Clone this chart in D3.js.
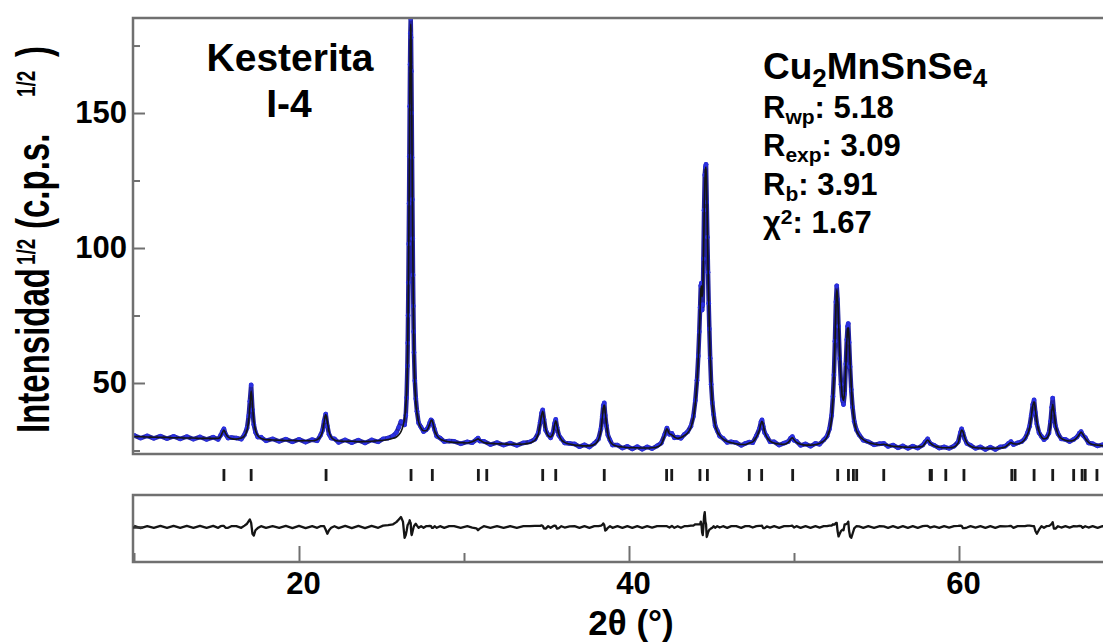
<!DOCTYPE html>
<html>
<head>
<meta charset="utf-8">
<script src="https://cdn.jsdelivr.net/npm/d3@7"></script>
<style>
  html, body { margin: 0; padding: 0; background: #fff; }
  svg { display: block; font-family: "Liberation Sans", Arial, Helvetica, sans-serif; font-weight: bold; }
</style>
</head>
<body>
<svg id="chart" width="1103" height="643"></svg>
<script>
// ---- Rietveld refinement of Cu2MnSnSe4 (kesterite, I-4) ----
// Scattering angle 2θ (°), one entry per measured/refined point
const twoTheta = [
  10.0,10.4,10.8,11.2,11.6,12.0,12.4,12.8,13.2,13.6,14.0,14.4,14.8,
  15.1,15.25,15.35,15.45,15.55,15.7,15.9,
  16.2,16.5,16.7,16.85,16.95,17.02,17.1,17.18,17.26,17.36,17.5,17.7,18.0,18.4,18.8,
  19.2,19.6,20.0,20.4,20.8,21.1,21.3,
  21.42,21.52,21.62,21.72,21.82,21.95,22.15,
  22.4,22.8,23.2,23.6,24.0,24.4,24.8,25.1,25.4,25.7,25.9,
  26.05,26.18,26.3,26.4,26.47,26.52,
  26.57,26.59,26.61,26.63,26.65,26.67,26.69,26.71,26.73,26.75,26.77,26.79,26.81,26.83,26.85,26.87,26.89,26.91,26.93,26.95,26.97,
  27.02,27.08,27.15,27.25,27.4,27.55,27.7,
  27.82,27.92,28.0,28.06,28.13,28.22,28.35,28.55,28.8,29.1,
  29.4,29.8,30.2,30.5,30.75,30.85,30.95,31.2,31.6,32.0,32.4,32.8,33.2,33.6,34.0,34.3,
  34.5,34.62,34.7,34.77,34.85,34.95,35.1,35.25,35.4,35.49,35.56,35.64,35.75,35.9,36.1,36.4,
  36.7,37.0,37.3,37.6,37.9,38.15,
  38.3,38.38,38.44,38.5,38.56,38.63,38.72,38.85,39.0,39.3,
  39.6,39.9,40.2,40.5,40.8,41.1,41.4,41.7,41.95,
  42.15,42.3,42.45,42.6,42.75,42.95,43.15,43.35,
  43.55,43.75,43.9,44.02,44.12,44.2,44.26,44.31,44.35,44.39,
  44.43,44.47,44.51,44.55,44.59,44.63,44.67,44.71,44.75,44.79,
  44.83,44.87,44.92,44.98,45.05,45.13,45.22,45.35,45.5,45.7,
  45.95,46.2,
  46.5,46.8,47.05,47.29,47.5,47.72,47.9,
  48.0,48.06,48.13,48.22,48.35,48.55,48.8,49.1,49.4,49.65,
  49.8,49.9,50.0,50.15,50.4,50.7,51.0,51.3,51.55,51.8,52.0,52.15,
  52.28,52.36,52.42,52.48,52.54,52.59,52.64,52.7,52.77,52.85,
  52.93,53.0,53.07,53.14,53.2,53.25,53.29,53.34,53.4,53.47,
  53.55,53.65,53.78,53.95,54.2,54.5,54.85,
  55.2,55.44,55.7,56.0,56.3,56.6,56.9,57.2,57.5,57.8,
  57.95,58.1,58.25,58.5,58.8,59.1,59.4,59.7,59.95,
  60.08,60.16,60.24,60.34,60.48,60.7,61.0,
  61.3,61.6,61.9,62.2,62.5,62.8,63.0,63.15,63.3,63.55,63.8,64.0,64.15,64.28,
  64.38,64.47,64.55,64.63,64.72,64.85,65.0,65.15,65.3,65.45,
  65.55,65.62,65.68,65.75,65.85,66.0,66.2,66.45,66.7,66.95,
  67.15,67.3,67.4,67.5,67.65,67.85,68.1,68.4,68.7,69.0
];

// Observed intensity, (c.p.s.)^1/2
const yObs = [
  30.6,29.6,30.4,29.5,30.3,29.4,30.2,29.3,30.1,29.2,30.0,29.1,29.9,
  29.1,30.6,31.9,33.0,31.0,29.6,29.8,
  29.6,29.2,30.9,33.3,37.8,43.2,49.3,40.0,34.6,31.8,30.0,29.9,28.6,29.3,28.4,
  29.2,28.2,29.1,28.1,29.0,28.6,30.6,
  32.4,35.9,38.5,34.0,31.0,29.6,29.3,
  28.0,28.9,27.9,28.8,27.8,28.9,28.2,29.3,29.6,30.4,31.6,
  33.6,35.7,35.5,34.5,38.0,44.5,
  56.3,64.8,75,87.2,101.5,116.5,134,152.5,168,179.5,185,178,165.5,150,133.5,118,103.5,90,78.5,69,61.3,
  50.8,44.2,39.5,35.2,33.6,32.0,32.6,
  33.5,35.2,36.3,36.0,34.5,32.7,30.3,29.6,28.3,28.5,
  28.4,27.5,28.2,27.9,29.0,29.6,28.5,28.4,27.2,27.9,27.0,27.7,26.9,27.8,28.2,29.2,
  31.5,35.5,38.8,40.0,36.5,32.5,30.8,29.7,31.8,35.0,36.5,33.5,30.6,29.3,27.8,27.6,
  27.4,26.4,27.1,26.3,27.6,29.3,
  33.0,37.6,41.6,42.6,38.0,34.2,30.7,28.8,27.0,27.0,
  25.9,26.5,25.6,26.4,25.5,26.3,25.7,26.7,27.7,
  30.7,33.3,31.0,31.3,29.7,29.9,29.5,30.9,
  31.9,34.0,37.6,43.5,51,60,69,78,86,87,
  77,79,96,114,127,130,131,117,104,91,
  79.5,70,59.2,49.5,42.7,38.3,34.2,32.3,30.3,29.5,
  28.0,28.2,
  27.9,26.9,27.6,28.1,27.9,30.4,33.0,
  35.6,36.3,34.0,31.6,30.3,28.2,28.2,27.0,27.7,28.3,
  29.6,30.1,28.8,28.4,26.9,27.4,26.6,27.6,27.3,28.9,30.3,33.0,
  38,45,53,65.5,80,86,81,71,59,49.5,
  43.8,42,46,57,66,71,72,65,56,47.5,
  41,35.8,32.7,30.8,28.8,28.2,27.1,
  27.5,27.6,26.5,27.0,26.0,26.7,25.8,26.6,25.9,27.0,
  28.2,29.3,27.6,26.9,25.9,26.3,25.8,26.6,28.2,
  31.5,33.0,31.6,29.4,27.6,26.9,25.8,
  26.3,25.4,26.2,25.4,26.3,26.6,27.6,28.3,27.2,27.8,28.3,29.5,31.5,34.0,
  38.0,42.0,43.7,39.0,34.8,31.6,30.2,29.0,29.8,31.5,
  35.8,41.0,44.4,39.0,34.0,31.2,29.3,29.1,28.3,29.1,
  30.0,31.4,32.0,30.7,29.8,27.8,27.5,26.7,27.1,26.4
];

// Calculated profile, (c.p.s.)^1/2
const yCalc = [
  30.2,30.1,30.0,29.9,29.9,29.8,29.7,29.7,29.6,29.6,29.5,29.5,29.5,
  29.5,30.2,31.5,32.6,31.3,30.0,29.4,
  29.2,29.6,30.5,32.5,36.0,41.0,47.0,41.5,36.0,32.5,30.5,29.5,29.0,28.9,28.8,
  28.7,28.7,28.6,28.6,28.6,29.0,30.2,
  32.0,35.5,38.3,35.5,32.0,30.0,28.9,
  28.5,28.4,28.4,28.3,28.3,28.4,28.6,28.8,29.1,29.5,30.0,
  30.8,32.0,34.0,37.0,41.0,46.0,
  56,64,74,86,100,115,132,150,166,178,183,179,168,153,136,120,105,91,79,69,61,
  50,43,39,35.5,33.3,32.3,32.3,
  33.2,34.8,36.0,36.3,34.8,32.4,30.6,29.3,28.6,28.2,
  28.0,27.9,27.8,28.2,29.0,29.3,28.9,28.0,27.6,27.5,27.4,27.3,27.3,27.4,27.8,28.8,
  31.0,35.0,38.0,39.5,37.0,33.0,30.5,30.0,31.5,34.5,36.0,34.0,31.0,29.0,28.0,27.4,
  27.0,26.8,26.7,26.7,27.2,29.0,
  32.5,37.0,40.5,41.8,39.0,35.0,31.0,28.5,27.3,26.6,
  26.3,26.1,26.0,26.0,25.9,25.9,26.0,26.3,27.3,
  30.3,33.0,31.2,30.8,30.0,29.5,29.8,30.5,
  31.5,33.5,37.0,42.5,50,59,68,77,84,86,
  82,84,96,110,122,129,130,121,107,93,
  81,71,60,50,43,38,34.5,32,30.5,29.2,
  28.3,27.9,
  27.5,27.2,27.2,27.8,28.2,30.0,32.5,
  35.0,35.8,34.5,32.0,30.0,28.5,27.8,27.4,27.3,28.0,
  29.2,29.7,29.0,28.0,27.3,27.0,27.0,27.2,27.6,28.5,30.0,32.5,
  37,44,52,64,78,84.5,82,73,61,51,
  45,43.5,47,56,65,70,70.5,66,58,49,
  41.5,36,32.5,30.5,29,28,27.4,
  27.1,27.3,26.9,26.6,26.4,26.3,26.2,26.2,26.3,26.6,
  27.8,28.9,27.8,26.7,26.2,26.0,26.0,26.3,27.8,
  31.0,32.6,32.0,29.8,27.8,26.6,26.0,
  25.9,25.8,25.8,25.8,25.9,26.3,27.3,27.9,27.5,27.4,28.0,29.2,31.0,33.5,
  37.5,41.5,43.0,40.0,35.5,32.0,30.0,29.3,29.5,31.0,
  35.0,39.5,42.0,39.5,34.5,31.0,29.5,28.8,28.5,28.8,
  29.8,31.0,31.8,31.0,29.5,28.0,27.2,27.0,26.8,26.6
];

// Difference curve Yobs - Ycalc
const yDiff = [
  0.4,-0.4,0.3,-0.3,0.4,-0.3,0.4,-0.3,0.4,-0.3,0.4,-0.3,0.4,
  -0.3,0.3,0.4,0.4,-0.3,-0.3,0.3,
  0.3,-0.3,0.5,1.2,2.2,2.8,1.5,-2.5,-3.2,-1.2,-0.4,0.3,-0.3,0.3,-0.3,
  0.4,-0.4,0.4,-0.4,0.3,-0.3,0.3,
  0.3,0.3,-1.0,-2.5,-1.2,-0.3,0.3,
  -0.4,0.4,-0.4,0.4,-0.4,0.4,-0.3,0.5,0.7,1.0,1.8,
  2.8,3.7,2.0,-4.0,-3.0,-1.5,
  0.3,0.8,1.0,1.2,1.5,1.5,2.0,2.5,2.0,1.5,1.5,-1.0,-2.5,-3.0,-2.5,-2.0,-1.5,-1.0,-0.5,0.0,0.3,
  0.8,1.2,0.5,-0.3,0.3,-0.3,0.3,
  0.3,0.4,0.3,-0.3,-0.3,0.3,-0.3,0.3,-0.3,0.3,
  0.3,-0.3,0.3,-0.2,-0.5,-1.2,-0.6,0.3,-0.3,0.3,-0.3,0.3,-0.3,0.3,0.3,0.4,
  0.4,0.4,0.6,0.4,-0.5,-0.6,0.3,-0.3,0.3,0.5,0.4,-0.6,-0.4,0.3,-0.2,0.2,
  0.3,-0.3,0.3,-0.3,0.3,0.3,
  0.5,0.8,1.3,0.8,-1.3,-1.0,-0.3,0.3,-0.3,0.3,
  -0.3,0.3,-0.3,0.3,-0.3,0.3,-0.2,0.3,0.3,
  0.3,0.3,-0.2,0.4,-0.3,0.3,-0.3,0.3,
  0.3,0.5,0.5,1.0,1.0,1.0,1.0,1.0,2.0,1.0,
  -2.0,-3.0,0.0,4.0,5.5,2.0,1.0,-3.7,-3.0,-2.0,
  -1.5,-1.0,-0.8,-0.5,-0.3,0.3,-0.3,0.3,-0.2,0.3,
  -0.3,0.3,
  0.3,-0.3,0.3,0.3,-0.2,0.3,0.4,
  0.4,0.5,-0.4,-0.4,0.2,-0.2,0.3,-0.3,0.3,0.3,
  0.4,0.5,-0.2,0.3,-0.3,0.3,-0.3,0.3,-0.2,0.3,0.3,0.5,
  0.5,1.0,0.8,1.0,1.5,1.5,-1.5,-3.5,-2.5,-1.5,
  -1.0,-1.2,1.0,1.0,1.2,1.5,2.0,-1.5,-3.5,-4.0,
  -2.5,-0.5,0.3,0.2,-0.3,0.3,-0.3,
  0.3,0.2,-0.3,0.3,-0.3,0.3,-0.3,0.3,-0.3,0.3,
  0.4,0.4,-0.2,0.2,-0.3,0.3,-0.2,0.3,0.4,
  0.5,0.4,-0.4,-0.4,-0.2,0.3,-0.2,
  0.3,-0.3,0.3,-0.3,0.3,0.2,0.3,0.4,-0.3,0.3,0.3,0.3,0.5,0.5,
  0.4,0.3,0.3,-1.5,-2.5,-1.0,0.3,-0.3,0.3,0.4,
  0.8,1.2,1.8,-0.6,-0.6,0.3,-0.2,0.3,-0.2,0.3,
  0.2,0.4,0.3,-0.3,0.3,-0.2,0.3,-0.3,0.3,-0.2
];

// Bragg reflection positions of the I-4 phase, 2θ (°)
const braggPositions = [
  15.45, 17.1, 21.64, 26.79, 28.08, 30.87, 31.38, 34.77, 35.56, 38.5,
  42.28, 42.59, 44.3, 44.75, 47.29, 48.04, 49.92, 52.65, 53.3, 53.6, 53.8,
  55.44, 58.25, 58.33, 59.2, 60.3, 63.2, 63.4, 64.55, 65.68, 66.95, 67.46, 67.65, 68.36
];

// Axis ticks
const xMajorTicks = [20, 40, 60];
const xMinorTicks = [10, 30, 50, 70];
const yMajorTicks = [50, 100, 150];
const yMinorTicks = [25, 75, 125, 175];

// Refinement figures of merit
const phaseName = "Kesterita";
const spaceGroup = "I-4";
const fitStats = [
  { sym: "R", sub: "wp", value: "5.18" },
  { sym: "R", sub: "exp", value: "3.09" },
  { sym: "R", sub: "b", value: "3.91" }
];
const chiSquared = "1.67";

// ---- layout ----
const svg = d3.select("#chart");
const frameLeft = 133, frameRight = 1140;
const mainTop = 18, mainBottom = 454;
const diffTop = 495, diffBottom = 562, diffZero = 527;
const pxPerUnit = 2.7;
const frameColor = "#707070";

const x = d3.scaleLinear().domain([10, 70]).range([134, 1124]);
const y = d3.scaleLinear().domain([23.7, 185.2]).range([mainBottom, mainTop]);
const yd = d3.scaleLinear()
  .domain([-(diffBottom - diffZero) / pxPerUnit, (diffZero - diffTop) / pxPerUnit])
  .range([diffBottom, diffTop]);

const points = twoTheta.map((t, i) => ({ t, obs: yObs[i], calc: yCalc[i], diff: yDiff[i] }));

const defs = svg.append("defs");
defs.append("clipPath").attr("id", "clipMain").append("rect")
  .attr("x", frameLeft).attr("y", mainTop)
  .attr("width", frameRight - frameLeft).attr("height", mainBottom - mainTop);
defs.append("clipPath").attr("id", "clipDiff").append("rect")
  .attr("x", frameLeft).attr("y", diffTop)
  .attr("width", frameRight - frameLeft).attr("height", diffBottom - diffTop);

// ---- main panel ----
const main = svg.append("g");
const mainData = main.append("g").attr("clip-path", "url(#clipMain)");

// observed points: a connecting trace plus markers
mainData.append("path")
  .datum(points)
  .attr("fill", "none")
  .attr("stroke", "#22229e")
  .attr("stroke-width", 4.5)
  .attr("stroke-linejoin", "round")
  .attr("d", d3.line().x(d => x(d.t)).y(d => y(d.obs)));

mainData.selectAll("circle.obs")
  .data(points)
  .join("circle")
  .attr("class", "obs")
  .attr("cx", d => x(d.t))
  .attr("cy", d => y(d.obs))
  .attr("r", 2.4)
  .attr("fill", "#2b30e0");

// calculated profile
mainData.append("path")
  .datum(points)
  .attr("fill", "none")
  .attr("stroke", "#141414")
  .attr("stroke-width", 1.6)
  .attr("stroke-linejoin", "round")
  .attr("d", d3.line().x(d => x(d.t)).y(d => y(d.calc)).curve(d3.curveMonotoneX));

// frame (top, left, bottom)
main.append("path")
  .attr("fill", "none")
  .attr("stroke", frameColor)
  .attr("stroke-width", 2.5)
  .attr("d", `M${frameRight},${mainTop}H${frameLeft}V${mainBottom}H${frameRight}`);

// y axis, ticks pointing inward
const yAxisMajor = main.append("g")
  .attr("transform", `translate(${frameLeft},0)`)
  .call(d3.axisLeft(y).tickValues(yMajorTicks).tickSize(-12).tickPadding(6).tickFormat(d3.format("d")));
const yAxisMinor = main.append("g")
  .attr("transform", `translate(${frameLeft},0)`)
  .call(d3.axisLeft(y).tickValues(yMinorTicks).tickSize(-7).tickFormat(""));
[yAxisMajor, yAxisMinor].forEach(g => {
  g.select(".domain").remove();
  g.selectAll(".tick line").attr("stroke", frameColor).attr("stroke-width", 2);
});
yAxisMajor.selectAll(".tick text")
  .attr("font-size", 31)
  .attr("font-weight", "bold")
  .attr("font-family", "Liberation Sans, Arial, sans-serif")
  .attr("fill", "#000");

// Bragg reflection markers
svg.append("g")
  .selectAll("line")
  .data(braggPositions)
  .join("line")
  .attr("x1", d => x(d)).attr("x2", d => x(d))
  .attr("y1", 469).attr("y2", 481)
  .attr("stroke", "#1a1a1a")
  .attr("stroke-width", 2.8);

// ---- difference panel ----
const diffG = svg.append("g");
diffG.append("g").attr("clip-path", "url(#clipDiff)")
  .append("path")
  .datum(points)
  .attr("fill", "none")
  .attr("stroke", "#151515")
  .attr("stroke-width", 2.3)
  .attr("stroke-linejoin", "round")
  .attr("d", d3.line().x(d => x(d.t)).y(d => yd(d.diff)));

diffG.append("path")
  .attr("fill", "none")
  .attr("stroke", frameColor)
  .attr("stroke-width", 2.5)
  .attr("d", `M${frameRight},${diffTop}H${frameLeft}V${diffBottom}H${frameRight}`);

const yDiffAxis = diffG.append("g")
  .attr("transform", `translate(${frameLeft},0)`)
  .call(d3.axisLeft(yd).tickValues([0]).tickSize(-10).tickFormat(""));
yDiffAxis.select(".domain").remove();
yDiffAxis.selectAll(".tick line").attr("stroke", "#333").attr("stroke-width", 2.5);

// x axis along the bottom of the difference panel
const xAxisMajor = diffG.append("g")
  .attr("transform", `translate(0,${diffBottom})`)
  .call(d3.axisBottom(x).tickValues(xMajorTicks).tickSize(-16).tickPadding(10).tickFormat(d3.format("d")));
const xAxisMinor = diffG.append("g")
  .attr("transform", `translate(0,${diffBottom})`)
  .call(d3.axisBottom(x).tickValues(xMinorTicks).tickSize(-9).tickFormat(""));
[xAxisMajor, xAxisMinor].forEach(g => {
  g.select(".domain").remove();
  g.selectAll(".tick line").attr("stroke", frameColor).attr("stroke-width", 2);
});
xAxisMajor.selectAll(".tick text")
  .attr("font-size", 31)
  .attr("font-weight", "bold")
  .attr("font-family", "Liberation Sans, Arial, sans-serif")
  .attr("fill", "#000")
  .attr("dx", 4);

// ---- axis titles ----
svg.append("text")
  .attr("x", 631).attr("y", 635)
  .attr("text-anchor", "middle")
  .attr("font-size", 35)
  .text("2θ (°)");

const yTitle = svg.append("text")
  .attr("transform", "translate(49,433) rotate(-90) scale(1,1.4)")
  .attr("font-size", 33);
yTitle.append("tspan").attr("x", 0).attr("y", 0).text("Intensidad");
yTitle.append("tspan").attr("x", 168).attr("y", -10).attr("font-size", 19).text("1/2");
yTitle.append("tspan").attr("x", 204).attr("y", 0).text("(c.p.s.");
yTitle.append("tspan").attr("x", 336).attr("y", -10).attr("font-size", 19).text("1/2");
yTitle.append("tspan").attr("x", 376).attr("y", 0).text(")");

// ---- annotations ----
svg.append("text").attr("x", 290).attr("y", 71).attr("text-anchor", "middle")
  .attr("font-size", 39).text(phaseName);
svg.append("text").attr("x", 289).attr("y", 117).attr("text-anchor", "middle")
  .attr("font-size", 39).text(spaceGroup);

const formula = svg.append("text").attr("x", 763).attr("y", 79).attr("font-size", 37);
formula.append("tspan").text("Cu");
formula.append("tspan").attr("font-size", 26).attr("dy", 8).text("2");
formula.append("tspan").attr("dy", -8).text("MnSnSe");
formula.append("tspan").attr("font-size", 26).attr("dy", 8).text("4");

const statY0 = 118, statStep = 38.4;
fitStats.forEach((s, i) => {
  const t = svg.append("text").attr("x", 763).attr("y", statY0 + i * statStep).attr("font-size", 31);
  t.append("tspan").text(s.sym);
  t.append("tspan").attr("font-size", 21).attr("dy", 6).text(s.sub);
  t.append("tspan").attr("dy", -6).text(": " + s.value);
});
const chi = svg.append("text").attr("x", 763).attr("y", statY0 + 3 * statStep).attr("font-size", 31);
chi.append("tspan").text("χ");
chi.append("tspan").attr("font-size", 21).attr("dy", -9).text("2");
chi.append("tspan").attr("dy", 9).text(": " + chiSquared);
</script>
</body>
</html>
